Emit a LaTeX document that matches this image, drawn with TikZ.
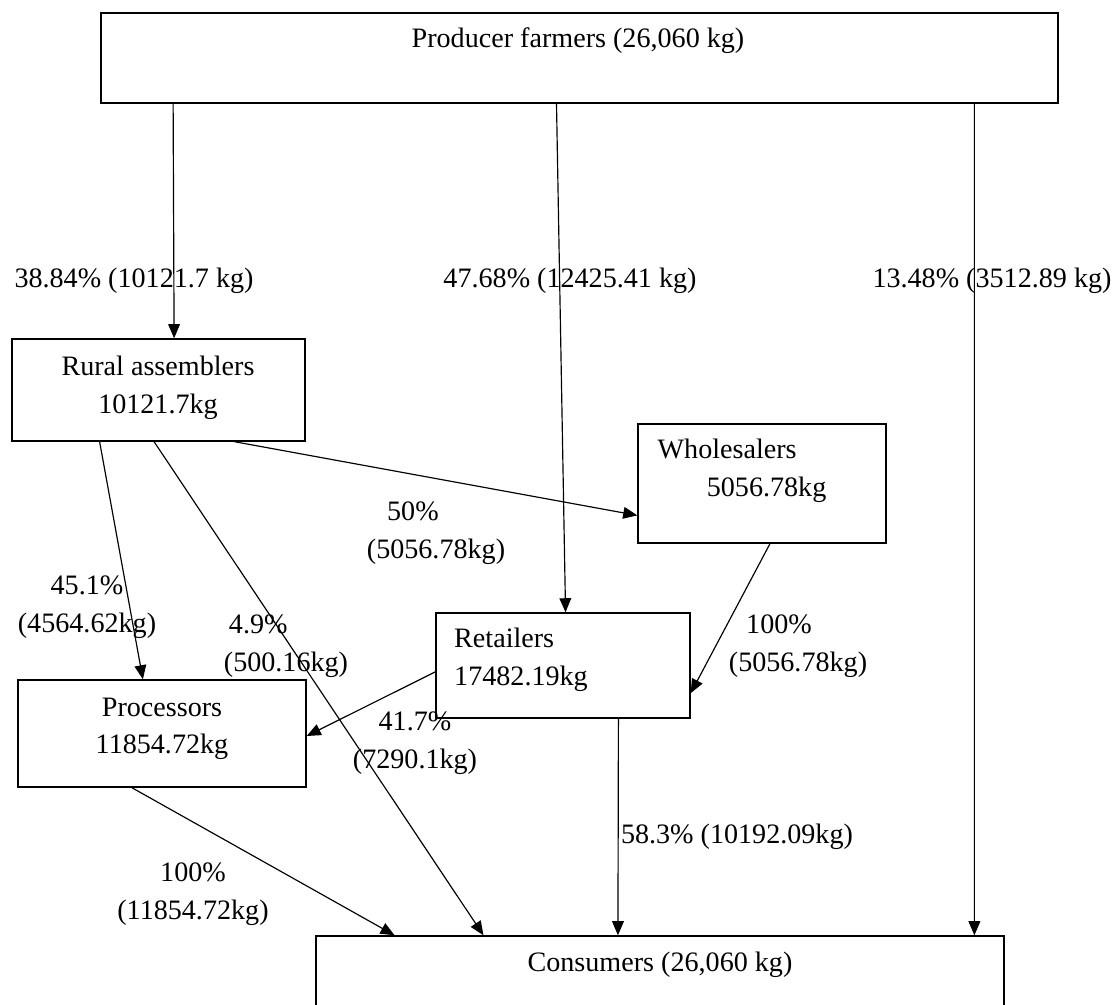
\documentclass[tikz,border=0pt]{standalone}
\usepackage{fontspec}
\setmainfont{Liberation Serif}
\usetikzlibrary{calc,arrows.meta}
\tikzset{x=0.015cm, y=-0.015cm, font=\fontsize{12}{16}\selectfont,
  box/.style={draw, rectangle, line width=0.6pt, inner sep=0pt},
  txt/.style={inner sep=0pt, align=center},
  flow/.style={-{Triangle[length=6pt,width=5pt]}, line width=0.5pt}}

\begin{document}
\begin{tikzpicture}
    \useasboundingbox (0,0) rectangle (1114,1005);
    \clip (0,0) rectangle (1114,1005);
    \node[box, minimum width=14.355cm, minimum height=1.35cm] (pf) at (579.5,58) {};
    \node[box, minimum width=4.395cm, minimum height=1.53cm] (ra) at (158.5,390) {};
    \node[box, minimum width=3.72cm, minimum height=1.785cm] (wh) at (762,483.5) {};
    \node[box, minimum width=3.81cm, minimum height=1.575cm] (rt) at (563,665.5) {};
    \node[box, minimum width=4.32cm, minimum height=1.605cm] (pr) at (162,733.5) {};
    \node[box, minimum width=10.32cm, minimum height=1.5cm] (cs) at (660,986) {};
    \node[txt] (pftxt) at (578,41) {Producer farmers (26,060 kg)};
    \node[txt] (ratxt) at (158,388) {Rural assemblers\\10121.7kg};
    \node[txt, align=left] (whtxt) at (742,471) {Wholesalers\\\hspace*{1.75em}5056.78kg};
    \node[txt, align=left] (rttxt) at (521,660) {Retailers\\17482.19kg};
    \node[txt] (prtxt) at (162,729) {Processors\\11854.72kg};
    \node[txt] (cstxt) at (660,965) {Consumers (26,060 kg)};
    \node[txt] (l1) at (134,281) {38.84\% (10121.7 kg)};
    \node[txt] (l2) at (570,281) {47.68\% (12425.41 kg)};
    \node[txt] (l3) at (992,281) {13.48\% (3512.89 kg)};
    \node[txt] (l4) at (436,533) {50\%\hspace*{1.64em}\\(5056.78kg)};
    \node[txt] (l5) at (87,607) {45.1\%\\(4564.62kg)};
    \node[txt, align=left] (l6) at (286,646) {\hspace*{0.18em}4.9\%\\(500.16kg)};
    \node[txt] (l7) at (798,646) {100\%\hspace*{1.35em}\\(5056.78kg)};
    \node[txt] (l8) at (415,743) {41.7\%\\(7290.1kg)};
    \node[txt] (l9) at (737,837) {58.3\% (10192.09kg)};
    \node[txt] (l10) at (193,894) {100\%\\(11854.72kg)};
    \draw[flow] ($(pf.south west)!.076!(pf.south east)$) -- ($(ra.north west)!.553!(ra.north east)$);
    \draw[flow] ($(pf.south west)!.476!(pf.south east)$) -- ($(rt.north west)!.51!(rt.north east)$);
    \draw[flow] ($(pf.south west)!.912!(pf.south east)$) -- ($(cs.north west)!.956!(cs.north east)$);
    \draw[flow] ($(ra.south west)!.758!(ra.south east)$) -- ($(wh.north west)!.765!(wh.south west)$);
    \draw[flow] ($(ra.south west)!.30!(ra.south east)$) -- ($(pr.north west)!.434!(pr.north east)$);
    \draw[flow] ($(ra.south west)!.485!(ra.south east)$) -- ($(cs.north west)!.244!(cs.north east)$);
    \draw[flow] ($(wh.south west)!.532!(wh.south east)$) -- ($(rt.north east)!.76!(rt.south east)$);
    \draw[flow] ($(rt.north west)!.56!(rt.south west)$) -- ($(pr.north east)!.523!(pr.south east)$);
    \draw[flow] ($(pr.south west)!.396!(pr.south east)$) -- ($(cs.north west)!.115!(cs.north east)$);
    \draw[flow] ($(rt.south west)!.717!(rt.south east)$) -- ($(cs.north west)!.439!(cs.north east)$);
\end{tikzpicture}
\end{document}
